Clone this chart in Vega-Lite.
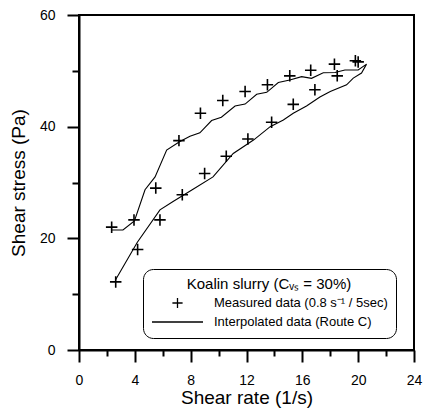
{
  "$schema": "https://vega.github.io/schema/vega-lite/v6.json",
  "width": 335,
  "height": 335,
  "autosize": {"type": "none"},
  "padding": {"left": 79, "top": 15, "right": 11, "bottom": 61},
  "config": {
    "font": "Liberation Sans",
    "view": {"stroke": "black", "strokeWidth": 2},
    "axis": {
      "grid": false,
      "domainColor": "black",
      "domainWidth": 2,
      "tickColor": "black",
      "tickWidth": 2,
      "labelColor": "black",
      "titleColor": "black",
      "labelFont": "Liberation Sans",
      "titleFont": "Liberation Sans",
      "labelFontSize": 14,
      "titleFontSize": 19,
      "titleFontWeight": "normal",
      "labelOverlap": false,
      "labelFlush": false,
      "labelBound": false
    }
  },
  "datasets": {
    "measured": [
      {"rate": 2.34, "stress": 22.0, "series": "Measured data (0.8 s⁻¹ / 5sec)"},
      {"rate": 3.94, "stress": 23.3, "series": "Measured data (0.8 s⁻¹ / 5sec)"},
      {"rate": 5.5, "stress": 29.0, "series": "Measured data (0.8 s⁻¹ / 5sec)"},
      {"rate": 7.16, "stress": 37.5, "series": "Measured data (0.8 s⁻¹ / 5sec)"},
      {"rate": 8.7, "stress": 42.4, "series": "Measured data (0.8 s⁻¹ / 5sec)"},
      {"rate": 10.3, "stress": 44.7, "series": "Measured data (0.8 s⁻¹ / 5sec)"},
      {"rate": 11.9, "stress": 46.3, "series": "Measured data (0.8 s⁻¹ / 5sec)"},
      {"rate": 13.5, "stress": 47.5, "series": "Measured data (0.8 s⁻¹ / 5sec)"},
      {"rate": 15.1, "stress": 49.1, "series": "Measured data (0.8 s⁻¹ / 5sec)"},
      {"rate": 16.6, "stress": 50.1, "series": "Measured data (0.8 s⁻¹ / 5sec)"},
      {"rate": 18.3, "stress": 51.2, "series": "Measured data (0.8 s⁻¹ / 5sec)"},
      {"rate": 19.8, "stress": 51.8, "series": "Measured data (0.8 s⁻¹ / 5sec)"},
      {"rate": 20.0, "stress": 51.6, "series": "Measured data (0.8 s⁻¹ / 5sec)"},
      {"rate": 18.5, "stress": 49.1, "series": "Measured data (0.8 s⁻¹ / 5sec)"},
      {"rate": 16.9, "stress": 46.6, "series": "Measured data (0.8 s⁻¹ / 5sec)"},
      {"rate": 15.35, "stress": 44.0, "series": "Measured data (0.8 s⁻¹ / 5sec)"},
      {"rate": 13.8, "stress": 40.8, "series": "Measured data (0.8 s⁻¹ / 5sec)"},
      {"rate": 12.1, "stress": 37.8, "series": "Measured data (0.8 s⁻¹ / 5sec)"},
      {"rate": 10.55, "stress": 34.7, "series": "Measured data (0.8 s⁻¹ / 5sec)"},
      {"rate": 9.0, "stress": 31.6, "series": "Measured data (0.8 s⁻¹ / 5sec)"},
      {"rate": 7.4, "stress": 27.8, "series": "Measured data (0.8 s⁻¹ / 5sec)"},
      {"rate": 5.8, "stress": 23.3, "series": "Measured data (0.8 s⁻¹ / 5sec)"},
      {"rate": 4.2, "stress": 18.0, "series": "Measured data (0.8 s⁻¹ / 5sec)"},
      {"rate": 2.63, "stress": 12.2, "series": "Measured data (0.8 s⁻¹ / 5sec)"}
    ],
    "interp": [
      {"i": 1, "rate": 2.3, "stress": 21.5},
      {"i": 2, "rate": 3.15, "stress": 21.5},
      {"i": 3, "rate": 3.97, "stress": 23.1},
      {"i": 4, "rate": 4.73, "stress": 28.7},
      {"i": 5, "rate": 5.45, "stress": 31.0},
      {"i": 6, "rate": 6.28, "stress": 35.8},
      {"i": 7, "rate": 7.2, "stress": 37.3},
      {"i": 8, "rate": 7.95, "stress": 38.3},
      {"i": 9, "rate": 8.66, "stress": 38.9},
      {"i": 10, "rate": 9.5, "stress": 41.1},
      {"i": 11, "rate": 10.2, "stress": 41.7},
      {"i": 12, "rate": 11.18, "stress": 43.7},
      {"i": 13, "rate": 11.9, "stress": 44.05},
      {"i": 14, "rate": 12.73, "stress": 45.8},
      {"i": 15, "rate": 13.45, "stress": 46.15},
      {"i": 16, "rate": 14.28, "stress": 47.9},
      {"i": 17, "rate": 15.1, "stress": 48.36},
      {"i": 18, "rate": 15.95, "stress": 48.96},
      {"i": 19, "rate": 16.66, "stress": 48.66},
      {"i": 20, "rate": 17.5, "stress": 49.67},
      {"i": 21, "rate": 18.34, "stress": 49.7},
      {"i": 22, "rate": 19.05, "stress": 50.15},
      {"i": 23, "rate": 20.0, "stress": 50.15},
      {"i": 24, "rate": 20.6, "stress": 51.2},
      {"i": 25, "rate": 20.24, "stress": 49.6},
      {"i": 26, "rate": 19.65, "stress": 48.7},
      {"i": 27, "rate": 19.17, "stress": 47.5},
      {"i": 28, "rate": 18.0, "stress": 46.3},
      {"i": 29, "rate": 17.26, "stress": 45.3},
      {"i": 30, "rate": 16.3, "stress": 43.7},
      {"i": 31, "rate": 15.35, "stress": 42.4},
      {"i": 32, "rate": 14.64, "stress": 41.2},
      {"i": 33, "rate": 13.7, "stress": 40.0},
      {"i": 34, "rate": 12.5, "stress": 37.6},
      {"i": 35, "rate": 11.05, "stress": 35.2},
      {"i": 36, "rate": 9.6, "stress": 31.0},
      {"i": 37, "rate": 8.17, "stress": 28.8},
      {"i": 38, "rate": 6.74, "stress": 26.6},
      {"i": 39, "rate": 5.8, "stress": 25.1},
      {"i": 40, "rate": 4.18, "stress": 19.3},
      {"i": 41, "rate": 2.6, "stress": 12.5}
    ]
  },
  "encoding": {
    "x": {
      "field": "rate",
      "type": "quantitative",
      "scale": {"domain": [0, 24], "nice": false, "zero": false},
      "axis": {
        "title": "Shear rate (1/s)",
        "values": [0, 2, 4, 6, 8, 10, 12, 14, 16, 18, 20, 22, 24],
        "labelExpr": "datum.value % 4 === 0 ? datum.label : ''",
        "tickSize": {"condition": {"test": "datum.value % 4 === 0", "value": 12}, "value": 6},
        "labelPadding": 11,
        "titlePadding": 1
      }
    },
    "y": {
      "field": "stress",
      "type": "quantitative",
      "scale": {"domain": [0, 60], "nice": false, "zero": false},
      "axis": {
        "title": "Shear stress (Pa)",
        "values": [0, 10, 20, 30, 40, 50, 60],
        "labelExpr": "datum.value % 20 === 0 ? datum.label : ''",
        "tickSize": {"condition": {"test": "datum.value % 20 === 0", "value": 12}, "value": 7},
        "labelPadding": 12,
        "titlePadding": 11
      }
    }
  },
  "layer": [
    {
      "data": {"name": "interp"},
      "mark": {"type": "line", "color": "black", "strokeWidth": 1.1},
      "encoding": {"order": {"field": "i", "type": "quantitative"}}
    },
    {
      "data": {"name": "measured"},
      "mark": {"type": "point", "filled": false, "color": "black", "strokeWidth": 1.6, "size": 3300, "opacity": 1},
      "encoding": {
        "shape": {
          "field": "series",
          "type": "nominal",
          "scale": {
            "domain": ["Measured data (0.8 s⁻¹ / 5sec)", "Interpolated data (Route C)"],
            "range": ["M-0.2,0H0.2M0,-0.2V0.2", "M-1,0H1"]
          },
          "legend": {
            "title": "Koalin slurry (Cᵥₛ = 30%)",
            "orient": "none",
            "legendX": 64,
            "legendY": 254,
            "padding": 8,
            "cornerRadius": 10,
            "strokeColor": "black",
            "fillColor": "white",
            "symbolSize": 2601,
            "symbolStrokeWidth": 1.3,
            "symbolStrokeColor": "black",
            "symbolFillColor": "transparent",
            "clipHeight": 16,
            "rowPadding": 3,
            "labelOffset": 10,
            "labelLimit": 0,
            "labelFontSize": 13,
            "labelFont": "Liberation Sans",
            "labelColor": "black",
            "titleLimit": 0,
            "titleFont": "Liberation Sans",
            "titleFontSize": 15,
            "titleFontWeight": "normal",
            "titleColor": "black",
            "titleAnchor": "middle",
            "titleAlign": "center",
            "titlePadding": 3
          }
        }
      }
    }
  ]
}
